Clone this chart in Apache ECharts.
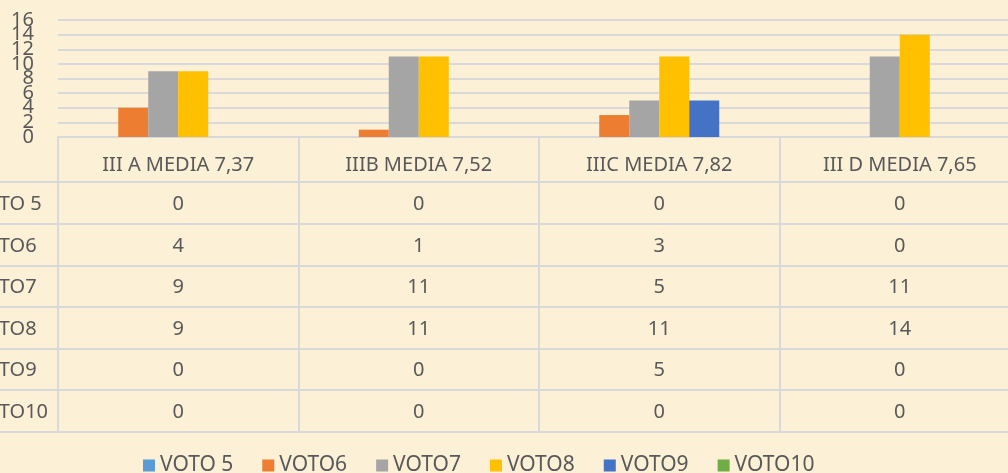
<!DOCTYPE html>
<html>
<head>
<meta charset="utf-8">
<script src="https://cdn.jsdelivr.net/npm/echarts@6/dist/echarts.min.js"></script>
<style>
html, body { margin: 0; padding: 0; background: #fcf0d6; }
#main { width: 1008px; height: 473px; }
</style>
</head>
<body>
<div id="main"></div>
<script>
// categorie (classi) e voti
var categories = ['III A MEDIA 7,37', 'IIIB MEDIA 7,52', 'IIIC MEDIA 7,82', 'III D MEDIA 7,65'];
var seriesNames = ['VOTO 5', 'VOTO6', 'VOTO7', 'VOTO8', 'VOTO9', 'VOTO10'];
var voto5 = [0, 0, 0, 0];
var voto6 = [4, 1, 3, 0];
var voto7 = [9, 11, 5, 11];
var voto8 = [9, 11, 11, 14];
var voto9 = [0, 0, 5, 0];
var voto10 = [0, 0, 0, 0];
var yTicks = [0, 2, 4, 6, 8, 10, 12, 14, 16];

var allData = [voto5, voto6, voto7, voto8, voto9, voto10];
var colors = ['#5b9bd5', '#ed7d31', '#a5a5a5', '#ffc000', '#4472c4', '#70ad47'];
var textColor = '#595959';
var lineColor = '#d9d9d9';
var fontFam = '"Noto Sans", sans-serif';

// righe della tabella (bordi orizzontali)
var rowLines = [182, 224, 266, 307, 349, 390, 432];

var myChart = echarts.init(document.getElementById('main'));

var series = [];
for (var i = 0; i < seriesNames.length; i++) {
    series.push({
        name: seriesNames[i],
        type: 'bar',
        barWidth: 30,
        barGap: '0%',
        itemStyle: { color: colors[i] },
        data: allData[i]
    });
}

var option = {
    backgroundColor: '#fcf0d6',
    animation: false,
    textStyle: { fontFamily: fontFam },
    grid: {
        left: 58,
        width: 962,
        top: 20,
        bottom: 336,
        outerBoundsMode: 'none'
    },
    legend: {
        left: 138,
        top: 450,
        itemWidth: 12,
        itemHeight: 12,
        itemGap: 29,
        icon: 'rect',
        textStyle: { color: textColor, fontSize: 21, fontFamily: fontFam },
        data: seriesNames
    },
    xAxis: {
        type: 'category',
        data: categories,
        axisLine: { show: true, lineStyle: { color: lineColor, width: 2 } },
        axisTick: { show: true, length: 295, lineStyle: { color: lineColor, width: 2 } },
        axisLabel: {
            color: textColor,
            fontSize: 20,
            fontFamily: fontFam,
            margin: 28,
            verticalAlign: 'middle'
        }
    },
    yAxis: {
        type: 'value',
        min: yTicks[0],
        max: yTicks[yTicks.length - 1],
        interval: 2,
        axisLine: { show: false },
        axisTick: { show: false },
        axisLabel: { show: false },
        splitLine: { lineStyle: { color: lineColor, width: 2 } }
    },
    series: series
};
myChart.setOption(option);

var graphics = [];

// etichette asse Y (si sovrappongono come nell'originale)
for (var k = 0; k < yTicks.length; k++) {
    var py = myChart.convertToPixel({ yAxisIndex: 0 }, yTicks[k]);
    graphics.push({
        type: 'text',
        x: 34,
        y: py,
        style: { text: String(yTicks[k]), fill: textColor, font: '20px ' + fontFam, textAlign: 'right', textVerticalAlign: 'middle' },
        silent: true
    });
}

// tabella dati sotto il grafico
for (var r = 0; r < rowLines.length; r++) {
    graphics.push({
        type: 'line',
        shape: { x1: 0, y1: rowLines[r], x2: 1008, y2: rowLines[r] },
        style: { stroke: lineColor, lineWidth: 2 },
        silent: true
    });
}
for (var s = 0; s < seriesNames.length; s++) {
    var yc = (rowLines[s] + rowLines[s + 1]) / 2 + 1;
    graphics.push({
        type: 'text',
        x: -28,
        y: yc,
        style: { text: seriesNames[s], fill: textColor, font: '20px ' + fontFam, textAlign: 'left', textVerticalAlign: 'middle' },
        silent: true
    });
    for (var c = 0; c < categories.length; c++) {
        var px = myChart.convertToPixel({ xAxisIndex: 0 }, categories[c]);
        graphics.push({
            type: 'text',
            x: px,
            y: yc,
            style: { text: String(allData[s][c]), fill: textColor, font: '20px ' + fontFam, textAlign: 'center', textVerticalAlign: 'middle' },
            silent: true
        });
    }
}
myChart.setOption({ graphic: graphics });
</script>
</body>
</html>
